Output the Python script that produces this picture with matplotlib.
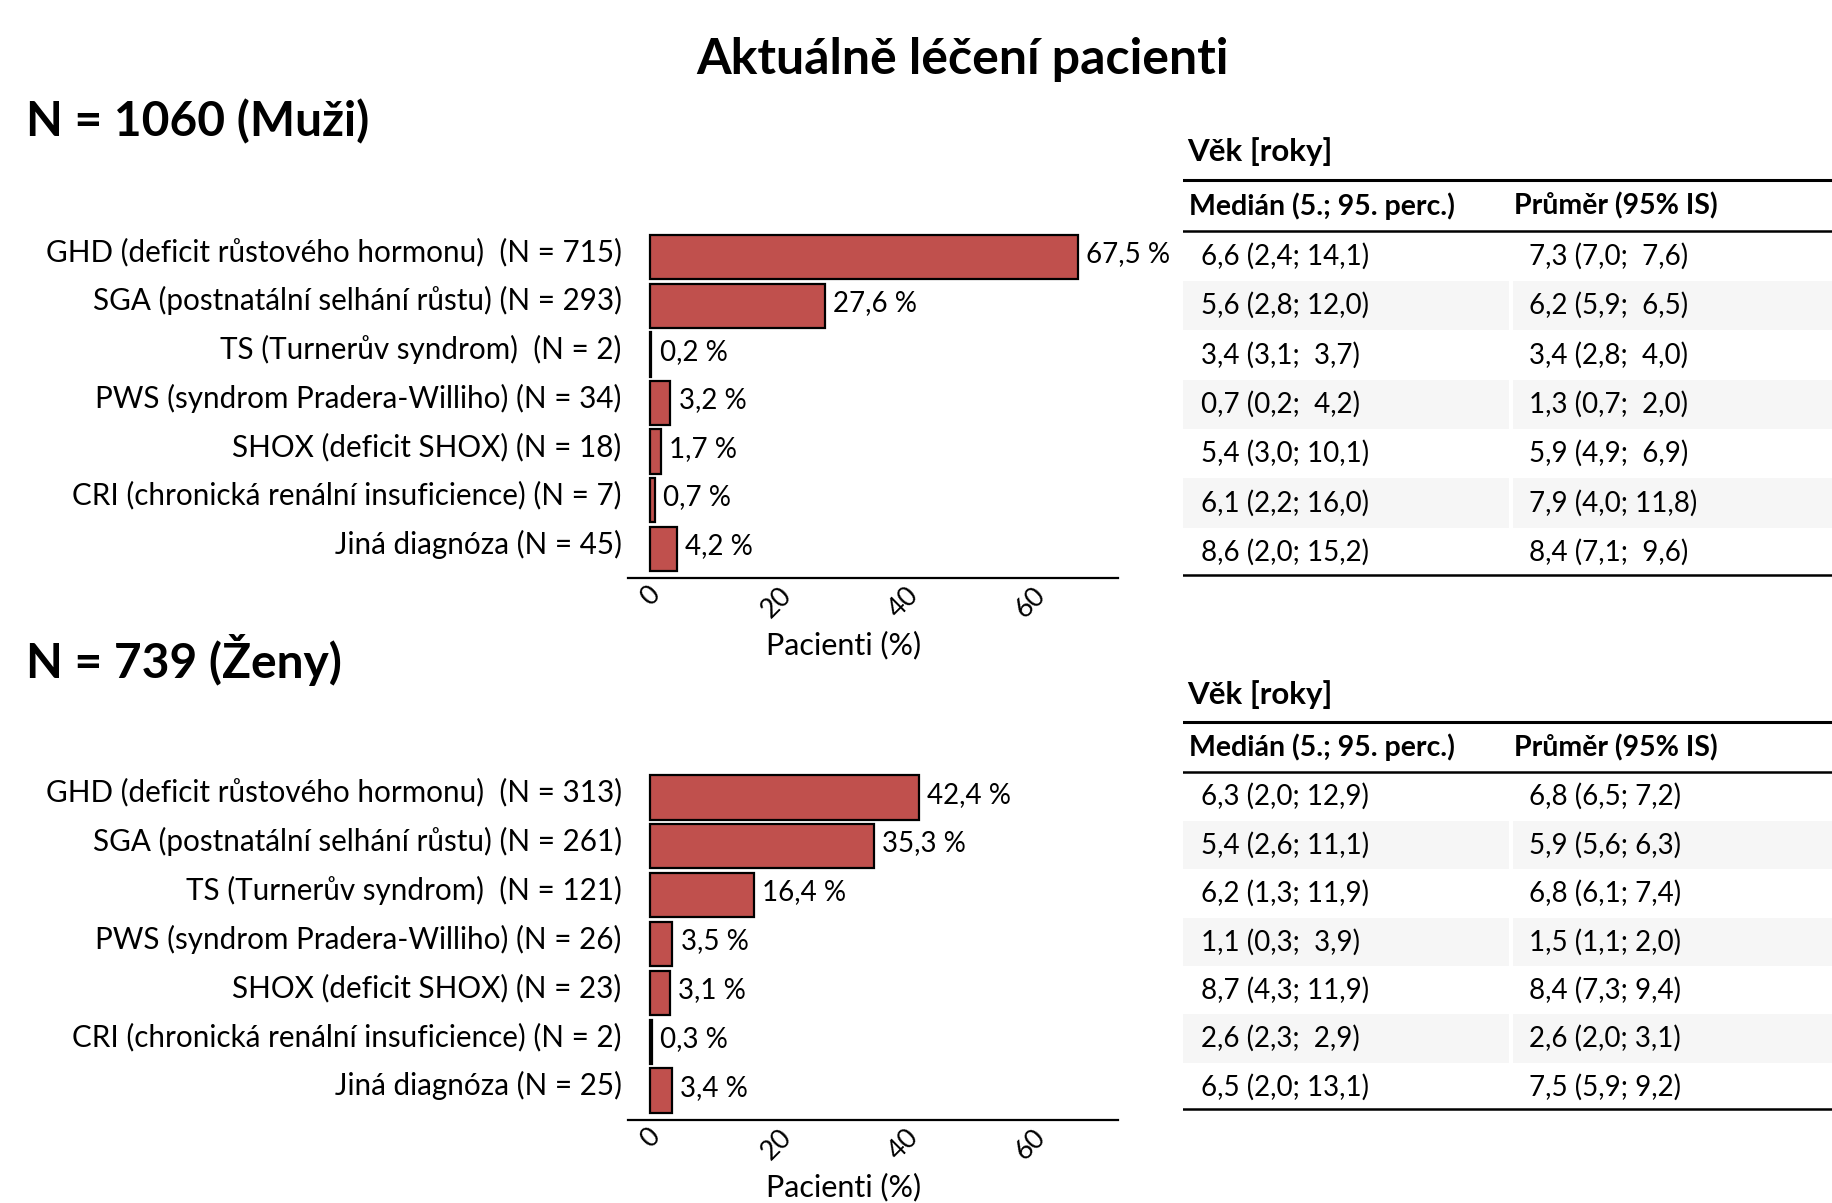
import matplotlib

matplotlib.use("Agg")
import matplotlib.pyplot as plt

plt.rcParams["font.family"] = ["Lato", "DejaVu Sans"]

W, H, DPI = 1833, 1203, 100
BAR_COLOR = "#C0504D"

# ── data ──────────────────────────────────────────────────────────
labels_m = [
    "GHD (deficit růstového hormonu)  (N = 715)",
    "SGA (postnatální selhání růstu) (N = 293)",
    "TS (Turnerův syndrom)  (N = 2)",
    "PWS (syndrom Pradera-Williho) (N = 34)",
    "SHOX (deficit SHOX) (N = 18)",
    "CRI (chronická renální insuficience) (N = 7)",
    "Jiná diagnóza (N = 45)",
]
labels_f = [
    "GHD (deficit růstového hormonu)  (N = 313)",
    "SGA (postnatální selhání růstu) (N = 261)",
    "TS (Turnerův syndrom)  (N = 121)",
    "PWS (syndrom Pradera-Williho) (N = 26)",
    "SHOX (deficit SHOX) (N = 23)",
    "CRI (chronická renální insuficience) (N = 2)",
    "Jiná diagnóza (N = 25)",
]
pct_m = [67.5, 27.6, 0.2, 3.2, 1.7, 0.7, 4.2]
pct_f = [42.4, 35.3, 16.4, 3.5, 3.1, 0.3, 3.4]

median_m = [
    "6,6 (2,4; 14,1)", "5,6 (2,8; 12,0)", "3,4 (3,1;  3,7)", "0,7 (0,2;  4,2)",
    "5,4 (3,0; 10,1)", "6,1 (2,2; 16,0)", "8,6 (2,0; 15,2)",
]
mean_m = [
    "7,3 (7,0;  7,6)", "6,2 (5,9;  6,5)", "3,4 (2,8;  4,0)", "1,3 (0,7;  2,0)",
    "5,9 (4,9;  6,9)", "7,9 (4,0; 11,8)", "8,4 (7,1;  9,6)",
]
median_f = [
    "6,3 (2,0; 12,9)", "5,4 (2,6; 11,1)", "6,2 (1,3; 11,9)", "1,1 (0,3;  3,9)",
    "8,7 (4,3; 11,9)", "2,6 (2,3;  2,9)", "6,5 (2,0; 13,1)",
]
mean_f = [
    "6,8 (6,5; 7,2)", "5,9 (5,6; 6,3)", "6,8 (6,1; 7,4)", "1,5 (1,1; 2,0)",
    "8,4 (7,3; 9,4)", "2,6 (2,0; 3,1)", "7,5 (5,9; 9,2)",
]
x_ticks = [0, 20, 40, 60]


def px_box(x0, y0, x1, y1):
    """Pixel box (top-left origin) -> figure fraction rect."""
    return [x0 / W, 1 - y1 / H, (x1 - x0) / W, (y1 - y0) / H]


def plot_bars(ax, labels, pct):
    ypos = list(range(len(labels)))
    ax.barh(ypos, pct, height=0.91, color=BAR_COLOR, edgecolor="black",
            linewidth=1.6)
    for y, v in zip(ypos, pct):
        ax.annotate(f"{v:.1f} %".replace(".", ","), xy=(v, y), xytext=(6, 2),
                    textcoords="offset points", va="center", ha="left",
                    fontsize=20)
    # category labels drawn by hand: they sit a bit above the bar centres
    ax.set_yticks([])
    for y, lab in zip(ypos, labels):
        ax.annotate(lab, xy=(0, y), xycoords=ax.get_yaxis_transform(),
                    xytext=(-4.5, 3.5), textcoords="offset points",
                    ha="right", va="center", fontsize=21.3)
    ax.set_xticks(x_ticks)
    ax.set_xticklabels([str(t) for t in x_ticks], rotation=45, ha="center",
                       fontsize=19.5)
    ax.tick_params(axis="both", length=0)
    ax.tick_params(axis="x", pad=3)
    ax.set_xlim(-3.5, 73.8)
    ax.set_ylim(6.6, -0.6)
    for s in ("left", "right", "top"):
        ax.spines[s].set_visible(False)
    ax.spines["bottom"].set_linewidth(1.6)
    ax.set_xlabel("Pacienti (%)", fontsize=22)
    ax.xaxis.set_label_coords(0.44, -0.15)


def plot_table(ax, med, mean):
    n = len(med)
    ax.set_xlim(0, 1)
    ax.set_ylim(n - 0.4, -2.6)
    ax.axis("off")
    for i in range(1, n, 2):
        ax.axhspan(i - 0.5, i + 0.5, xmin=0, xmax=0.502, color="#f6f6f6", lw=0)
        ax.axhspan(i - 0.5, i + 0.5, xmin=0.508, xmax=1, color="#f6f6f6", lw=0)
    ax.text(0.006, -2.12, "Věk [roky]", fontsize=22.5, fontweight="bold",
            va="center", ha="left")
    ax.axhline(-1.55, color="black", lw=2.2)
    ax.text(0.009, -1.02, "Medián (5.; 95. perc.)", fontsize=20.5,
            fontweight="bold", va="center", ha="left")
    ax.text(0.51, -1.02, "Průměr (95% IS)", fontsize=20.5,
            fontweight="bold", va="center", ha="left")
    ax.axhline(-0.52, color="black", lw=1.8)
    for i in range(n):
        ax.text(0.028, i, med[i], fontsize=20, va="center", ha="left")
        ax.text(0.532, i, mean[i], fontsize=20, va="center", ha="left")
    ax.axhline(n - 0.55, color="black", lw=1.8)


fig = plt.figure(figsize=(W / DPI, H / DPI), dpi=DPI)

fig.text(962 / W, 1 - 59 / H, "Aktuálně léčení pacienti", ha="center",
         va="center", fontsize=36, fontweight="bold")
fig.text(26 / W, 1 - 122 / H, "N = 1060 (Muži)", ha="left", va="center",
         fontsize=34.5, fontweight="bold")
fig.text(26 / W, 1 - 660 / H, "N = 739 (Ženy)", ha="left", va="center",
         fontsize=34.5, fontweight="bold")

ax_m = fig.add_axes(px_box(628, 228, 1118, 578))
plot_bars(ax_m, labels_m, pct_m)
ax_f = fig.add_axes(px_box(628, 768, 1118, 1120))
plot_bars(ax_f, labels_f, pct_f)

tab_m = fig.add_axes(px_box(1183, 128, 1833, 582))
plot_table(tab_m, median_m, mean_m)
tab_f = fig.add_axes(px_box(1183, 671, 1833, 1116))
plot_table(tab_f, median_f, mean_f)

fig.savefig("out.png", dpi=DPI)
